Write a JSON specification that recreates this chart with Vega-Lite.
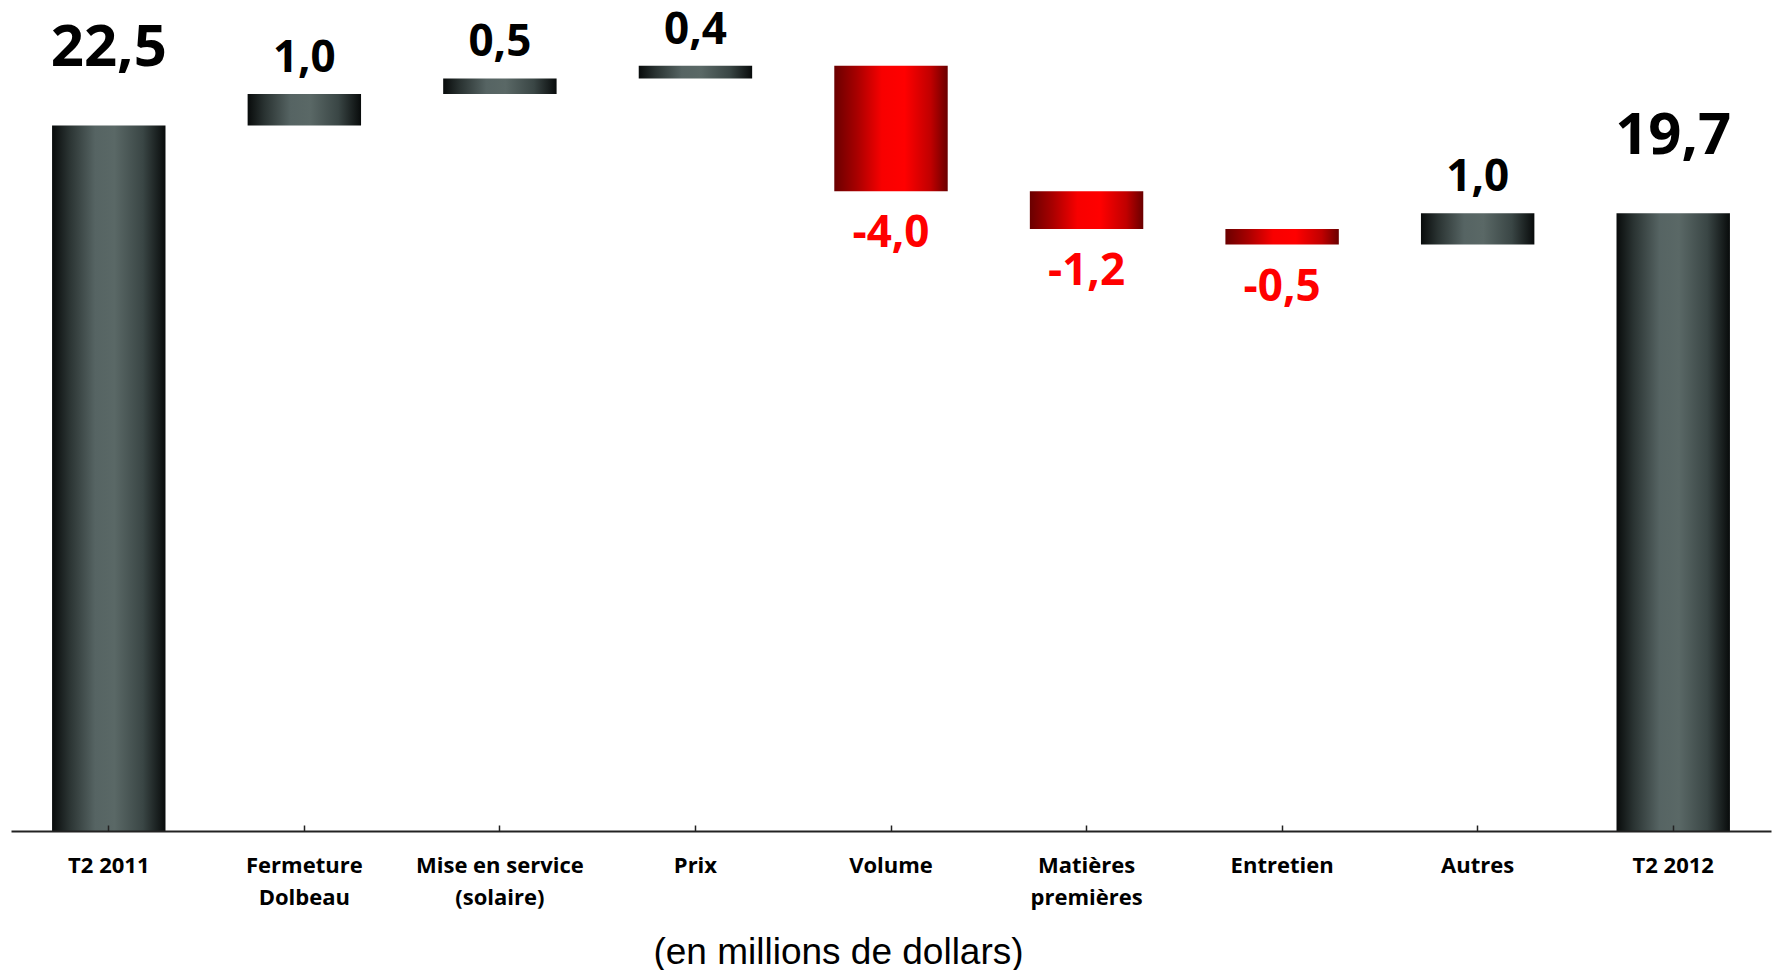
{
  "$schema": "https://vega.github.io/schema/vega-lite/v6.json",
  "width": 1760,
  "height": 831,
  "autosize": {"type": "none"},
  "padding": {"left": 11, "top": 0, "right": 1, "bottom": 139},
  "background": "white",
  "config": {"view": {"stroke": null}},
  "data": {
    "values": [
      {"cat": "T2 2011", "start": 0, "end": 22.5, "label": "22,5", "kind": "total"},
      {"cat": "Fermeture|Dolbeau", "start": 22.5, "end": 23.5, "label": "1,0", "kind": "up"},
      {"cat": "Mise en service|(solaire)", "start": 23.5, "end": 24.0, "label": "0,5", "kind": "up"},
      {"cat": "Prix", "start": 24.0, "end": 24.4, "label": "0,4", "kind": "up"},
      {"cat": "Volume", "start": 24.4, "end": 20.4, "label": "-4,0", "kind": "down"},
      {"cat": "Matières|premières", "start": 20.4, "end": 19.2, "label": "-1,2", "kind": "down"},
      {"cat": "Entretien", "start": 19.2, "end": 18.7, "label": "-0,5", "kind": "down"},
      {"cat": "Autres", "start": 18.7, "end": 19.7, "label": "1,0", "kind": "up"},
      {"cat": "T2 2012", "start": 0, "end": 19.7, "label": "19,7", "kind": "total"}
    ]
  },
  "encoding": {
    "x": {
      "field": "cat",
      "type": "nominal",
      "sort": null,
      "scale": {
        "domain": ["T2 2011", "Fermeture|Dolbeau", "Mise en service|(solaire)", "Prix", "Volume", "Matières|premières", "Entretien", "Autres", "T2 2012"],
        "paddingInner": 0.42,
        "paddingOuter": 0.21
      },
      "axis": {
        "title": "(en millions de dollars)",
        "titleFont": "Liberation Sans",
        "titleFontSize": 37,
        "titleFontWeight": "normal",
        "titleColor": "#000000",
        "titleX": 827,
        "titleY": 132,
        "titleAlign": "center",
        "titleBaseline": "alphabetic",
        "labelExpr": "split(datum.label, '|')",
        "labelAngle": 0,
        "labelFont": "Open Sans",
        "labelFontWeight": "bold",
        "labelFontSize": 22,
        "labelColor": "#000000",
        "labelBaseline": "alphabetic",
        "labelLineHeight": 32,
        "labelPadding": 47,
        "labelOverlap": false,
        "labelLimit": 0,
        "domainColor": "#222222",
        "domainWidth": 2,
        "tickColor": "#222222",
        "tickWidth": 1.5,
        "tickSize": -6,
        "zindex": 1
      }
    },
    "y": {
      "field": "start",
      "type": "quantitative",
      "scale": {"domain": [0, 26.5], "nice": false, "zero": false},
      "axis": null
    }
  },
  "layer": [
    {
      "transform": [{"filter": "datum.kind !== 'down'"}],
      "mark": {
        "type": "bar",
        "color": {
          "gradient": "linear",
          "x1": 0, "x2": 1, "y1": 0, "y2": 0,
          "stops": [
            {"offset": 0, "color": "#080b0b"},
            {"offset": 0.15, "color": "#2a3332"},
            {"offset": 0.38, "color": "#566463"},
            {"offset": 0.55, "color": "#5a6866"},
            {"offset": 0.8, "color": "#3a4645"},
            {"offset": 1, "color": "#080b0b"}
          ]
        }
      },
      "encoding": {"y2": {"field": "end"}}
    },
    {
      "transform": [{"filter": "datum.kind === 'down'"}],
      "mark": {
        "type": "bar",
        "color": {
          "gradient": "linear",
          "x1": 0, "x2": 1, "y1": 0, "y2": 0,
          "stops": [
            {"offset": 0, "color": "#6a0000"},
            {"offset": 0.2, "color": "#a80000"},
            {"offset": 0.42, "color": "#f80000"},
            {"offset": 0.62, "color": "#ff0000"},
            {"offset": 0.85, "color": "#c00000"},
            {"offset": 1, "color": "#6a0000"}
          ]
        }
      },
      "encoding": {"y2": {"field": "end"}}
    },
    {
      "transform": [{"filter": "datum.kind === 'total'"}],
      "mark": {"type": "text", "font": "Open Sans", "fontWeight": "bold", "fontSize": 58, "baseline": "alphabetic", "dy": -59, "color": "#000000"},
      "encoding": {"y": {"field": "end", "type": "quantitative"}, "text": {"field": "label"}}
    },
    {
      "transform": [{"filter": "datum.kind === 'up'"}],
      "mark": {"type": "text", "font": "Open Sans", "fontWeight": "bold", "fontSize": 44, "baseline": "alphabetic", "dy": -22, "color": "#000000"},
      "encoding": {"y": {"field": "end", "type": "quantitative"}, "text": {"field": "label"}}
    },
    {
      "transform": [{"filter": "datum.kind === 'down'"}],
      "mark": {"type": "text", "font": "Open Sans", "fontWeight": "bold", "fontSize": 44, "baseline": "alphabetic", "dy": 56, "color": "#ff0000"},
      "encoding": {"y": {"field": "end", "type": "quantitative"}, "text": {"field": "label"}}
    }
  ]
}
